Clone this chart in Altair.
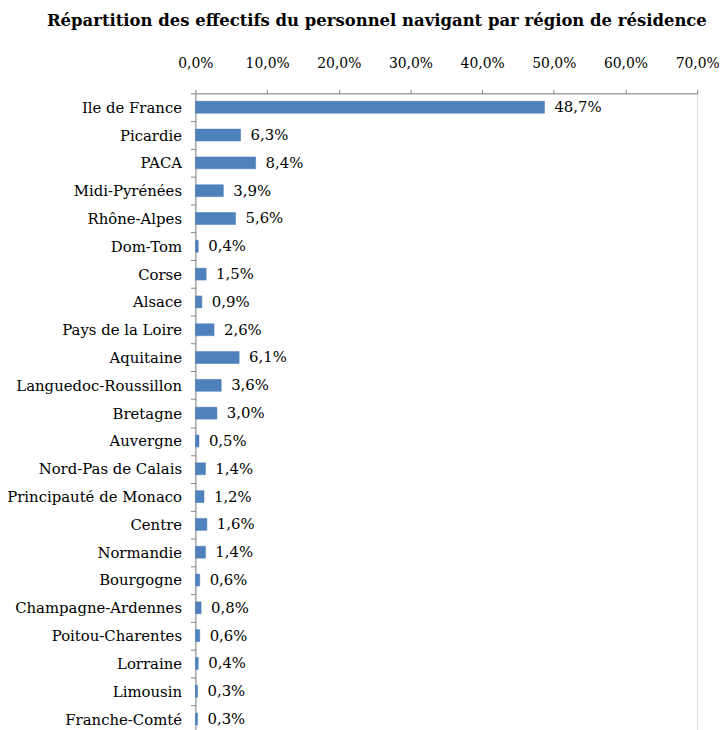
import altair as alt
import pandas as pd

regions = ["Ile de France", "Picardie", "PACA", "Midi-Pyrénées", "Rhône-Alpes", "Dom-Tom",
           "Corse", "Alsace", "Pays de la Loire", "Aquitaine", "Languedoc-Roussillon",
           "Bretagne", "Auvergne", "Nord-Pas de Calais", "Principauté de Monaco", "Centre",
           "Normandie", "Bourgogne", "Champagne-Ardennes", "Poitou-Charentes", "Lorraine",
           "Limousin", "Franche-Comté"]
values = [48.7, 6.3, 8.4, 3.9, 5.6, 0.4, 1.5, 0.9, 2.6, 6.1, 3.6, 3.0, 0.5, 1.4, 1.2,
          1.6, 1.4, 0.6, 0.8, 0.6, 0.4, 0.3, 0.3]
x_ticks = [0, 10, 20, 30, 40, 50, 60, 70]

df = pd.DataFrame({"region": regions, "value": values})

FONT = "DejaVu Serif"
FS = 15

base = alt.Chart(df).transform_calculate(
    lab="replace(format(datum.value, '.1f'), '.', ',') + '%'"
)

y_scale = alt.Scale(domain=regions, paddingInner=0, paddingOuter=0)
y_enc = alt.Y("region:N", sort=regions, title=None, scale=y_scale,
              axis=alt.Axis(tickBand="extent", tickSize=5, labelPadding=9,
                            labelFont=FONT, labelFontSize=FS, labelColor="#000000",
                            domainColor="#868686", tickColor="#868686", grid=False))
x_enc = alt.X("value:Q", title=None,
              scale=alt.Scale(domain=[0, 70], nice=False),
              axis=alt.Axis(orient="top", values=x_ticks, tickSize=4, labelPadding=19,
                            labelFlush=False, labelOverlap=False,
                            labelExpr="replace(format(datum.value, '.1f'), '.', ',') + '%'",
                            labelFont=FONT, labelFontSize=14, labelColor="#000000",
                            domainColor="#868686", tickColor="#868686", grid=False))

bars = base.mark_bar(size=12, color="#4F81BD", stroke="#4A7AB5", strokeWidth=0.5).encode(
    x=x_enc, y=y_enc)
texts = base.mark_text(align="left", baseline="middle", dx=10, font=FONT, fontSize=FS,
                       color="#000000").encode(
    x=alt.X("value:Q"), y=alt.Y("region:N", sort=regions, scale=y_scale), text="lab:N")

chart = (bars + texts).properties(
    width=506,
    height=645,
    title=alt.TitleParams("Répartition des effectifs du personnel navigant par région de résidence",
                          font=FONT, fontSize=16.6, fontWeight="bold", color="#000000",
                          anchor="middle", frame="group", dx=-70, offset=27),
    autosize=alt.AutoSizeParams(type="none"),
    padding={"left": 189, "top": 83, "right": 22, "bottom": 0},
).configure_view(stroke=None).configure(background="white")

chart.save("out.html", embed_options={"renderer": "svg", "actions": False})
